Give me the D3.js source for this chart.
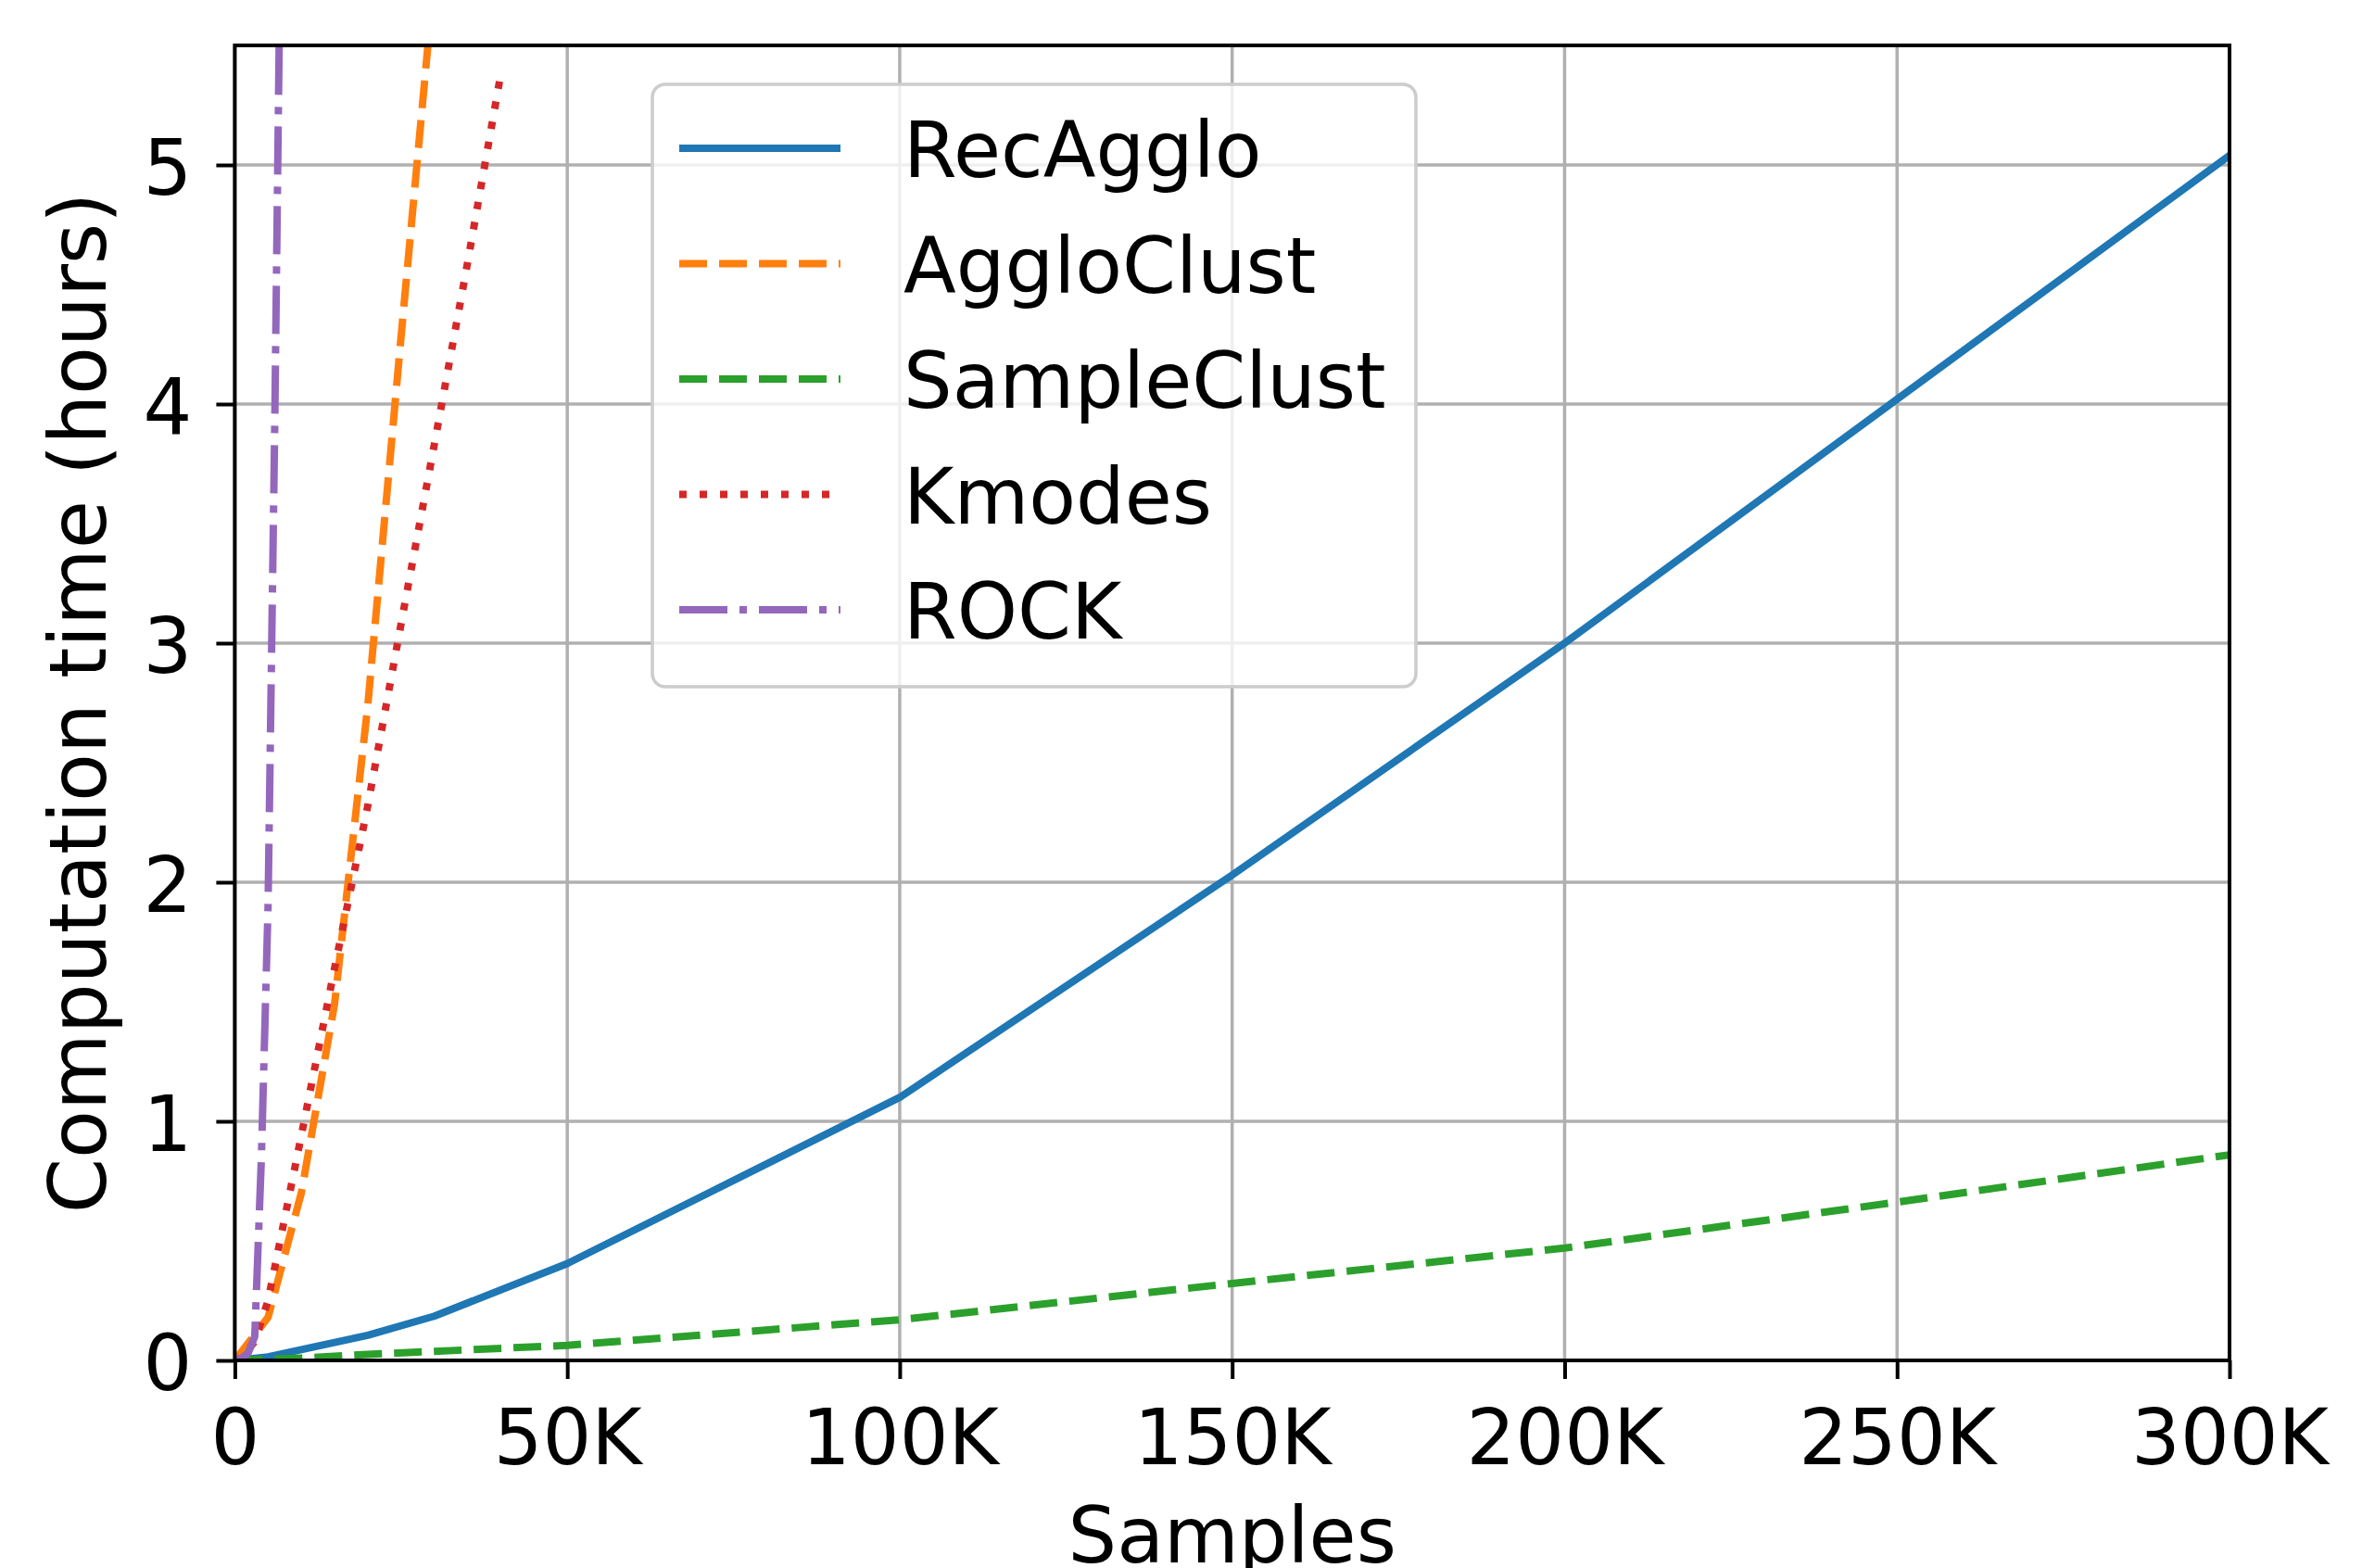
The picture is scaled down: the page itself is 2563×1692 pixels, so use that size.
<!DOCTYPE html>
<html>
<head>
<meta charset="utf-8">
<script src="https://cdn.jsdelivr.net/npm/d3@7"></script>
<style>
  html, body { margin: 0; padding: 0; background: #ffffff; }
  svg { display: block; }
  text { font-family: "DejaVu Sans", sans-serif; fill: #000; }
</style>
</head>
<body>
<svg id="chart" width="2563" height="1692"></svg>
<script>
// ---------------- data ----------------
const xTickValues = [0, 50000, 100000, 150000, 200000, 250000, 300000];
const xTickLabels = ["0", "50K", "100K", "150K", "200K", "250K", "300K"];
const yTickValues = [0, 1, 2, 3, 4, 5];
const yTickLabels = ["0", "1", "2", "3", "4", "5"];

const seriesNames = ["RecAgglo", "AggloClust", "SampleClust", "Kmodes", "ROCK"];

const recAggloSamples = [0, 5000, 10000, 20000, 30000, 50000, 100000, 150000, 200000, 250000, 300000];
const recAggloHours   = [0, 0.015, 0.045, 0.105, 0.185, 0.405, 1.10, 2.03, 3.00, 4.02, 5.04];

const aggloClustSamples = [0, 5000, 10000, 15000, 20000, 25000, 30000];
const aggloClustHours   = [0, 0.18, 0.70, 1.49, 2.74, 4.28, 5.79];

const sampleClustSamples = [0, 10000, 20000, 30000, 50000, 100000, 150000, 200000, 250000, 300000];
const sampleClustHours   = [0, 0.01, 0.025, 0.038, 0.063, 0.17, 0.322, 0.47, 0.662, 0.86];

const kmodesSamples = [0, 1000, 3000, 5000, 10000, 15000, 20000, 25000, 30000, 35000, 40000];
const kmodesHours   = [0, 0.01, 0.08, 0.25, 0.94, 1.64, 2.32, 3.08, 3.83, 4.59, 5.38];

const rockSamples = [0, 1000, 2000, 3000, 4000, 5000, 6000, 7000];
const rockHours   = [0, 0.01, 0.03, 0.10, 0.85, 1.90, 3.90, 6.30];

// ---------------- styles ----------------
const colors = ["#1f77b4", "#ff7f0e", "#2ca02c", "#d62728", "#9467bd"];
const dashes = [null, "30,13", "30,13", "8,14", "52,13,8,13"];
const lineWidth = 8;

const seriesData = [
  [recAggloSamples, recAggloHours],
  [aggloClustSamples, aggloClustHours],
  [sampleClustSamples, sampleClustHours],
  [kmodesSamples, kmodesHours],
  [rockSamples, rockHours]
].map(([xs, ys]) => xs.map((v, i) => ({x: v, y: ys[i]})));

// ---------------- layout ----------------
const plotLeft = 253.4, plotRight = 2406, plotTop = 49, plotBottom = 1468;
const fontSize = 83;

const svg = d3.select("#chart");
svg.append("rect").attr("width", 2563).attr("height", 1692).attr("fill", "#fff");

const xScale = d3.scaleLinear().domain([0, 300000]).range([plotLeft, plotRight]);
const yScale = d3.scaleLinear().domain([0, 5.5]).range([plotBottom, plotTop]);

svg.append("defs").append("clipPath").attr("id", "plotclip")
  .append("rect").attr("x", plotLeft).attr("y", plotTop)
  .attr("width", plotRight - plotLeft).attr("height", plotBottom - plotTop);

// grid
const grid = svg.append("g").attr("class", "grid");
grid.selectAll("line.vx").data(xTickValues).enter().append("line")
  .attr("x1", d => xScale(d)).attr("x2", d => xScale(d))
  .attr("y1", plotTop).attr("y2", plotBottom)
  .attr("stroke", "#b0b0b0").attr("stroke-width", 3.5);
grid.selectAll("line.hy").data(yTickValues).enter().append("line")
  .attr("x1", plotLeft).attr("x2", plotRight)
  .attr("y1", d => yScale(d)).attr("y2", d => yScale(d))
  .attr("stroke", "#b0b0b0").attr("stroke-width", 3.5);

// lines
const lineGen = d3.line().x(d => xScale(d.x)).y(d => yScale(d.y));
const linesG = svg.append("g").attr("clip-path", "url(#plotclip)");
seriesData.forEach((data, i) => {
  linesG.append("path")
    .datum(data)
    .attr("d", lineGen)
    .attr("fill", "none")
    .attr("stroke", colors[i])
    .attr("stroke-width", lineWidth)
    .attr("stroke-linejoin", "round")
    .attr("stroke-linecap", dashes[i] ? "butt" : "round")
    .attr("stroke-dasharray", dashes[i]);
});

// axes
const xAxis = d3.axisBottom(xScale).tickValues(xTickValues)
  .tickFormat((d, i) => xTickLabels[i]).tickSize(20).tickSizeOuter(0);
const gx = svg.append("g").attr("transform", `translate(0,${plotBottom})`).call(xAxis);
gx.select(".domain").remove();
gx.selectAll(".tick line").attr("stroke", "#000").attr("stroke-width", 4);
gx.selectAll(".tick text")
  .attr("y", 112).attr("dy", null)
  .style("font-size", fontSize + "px")
  .style("font-family", '"DejaVu Sans", sans-serif')
  .attr("fill", "#000");

const yAxis = d3.axisLeft(yScale).tickValues(yTickValues)
  .tickFormat((d, i) => yTickLabels[i]).tickSize(20).tickSizeOuter(0);
const gy = svg.append("g").attr("transform", `translate(${plotLeft},0)`).call(yAxis);
gy.select(".domain").remove();
gy.selectAll(".tick line").attr("stroke", "#000").attr("stroke-width", 4);
gy.selectAll(".tick text")
  .attr("x", -46).attr("dy", null).attr("y", 31)
  .style("font-size", fontSize + "px")
  .style("font-family", '"DejaVu Sans", sans-serif')
  .attr("fill", "#000");

// spines
svg.append("rect")
  .attr("x", plotLeft).attr("y", plotTop)
  .attr("width", plotRight - plotLeft).attr("height", plotBottom - plotTop)
  .attr("fill", "none").attr("stroke", "#000").attr("stroke-width", 4);

// axis labels
svg.append("text")
  .attr("x", (plotLeft + plotRight) / 2).attr("y", 1686)
  .attr("text-anchor", "middle")
  .style("font-size", fontSize + "px")
  .text("Samples");

svg.append("text")
  .attr("transform", `translate(114,${(plotTop + plotBottom) / 2}) rotate(-90)`)
  .attr("text-anchor", "middle")
  .style("font-size", "85px")
  .text("Computation time (hours)");

// legend
const legend = svg.append("g");
legend.append("rect")
  .attr("x", 704).attr("y", 91)
  .attr("width", 824).attr("height", 650)
  .attr("rx", 14).attr("ry", 14)
  .attr("fill", "#fff").attr("fill-opacity", 0.8)
  .attr("stroke", "#cccccc").attr("stroke-width", 3.5);

const rowY = d3.scaleLinear().domain([0, 4]).range([160, 658]);
seriesNames.forEach((name, i) => {
  legend.append("line")
    .attr("x1", 733).attr("x2", 907)
    .attr("y1", rowY(i)).attr("y2", rowY(i))
    .attr("stroke", colors[i])
    .attr("stroke-width", lineWidth)
    .attr("stroke-linecap", "butt")
    .attr("stroke-dasharray", dashes[i]);
  legend.append("text")
    .attr("x", 975).attr("y", rowY(i) + 31)
    .style("font-size", fontSize + "px")
    .text(name);
});
</script>
</body>
</html>
